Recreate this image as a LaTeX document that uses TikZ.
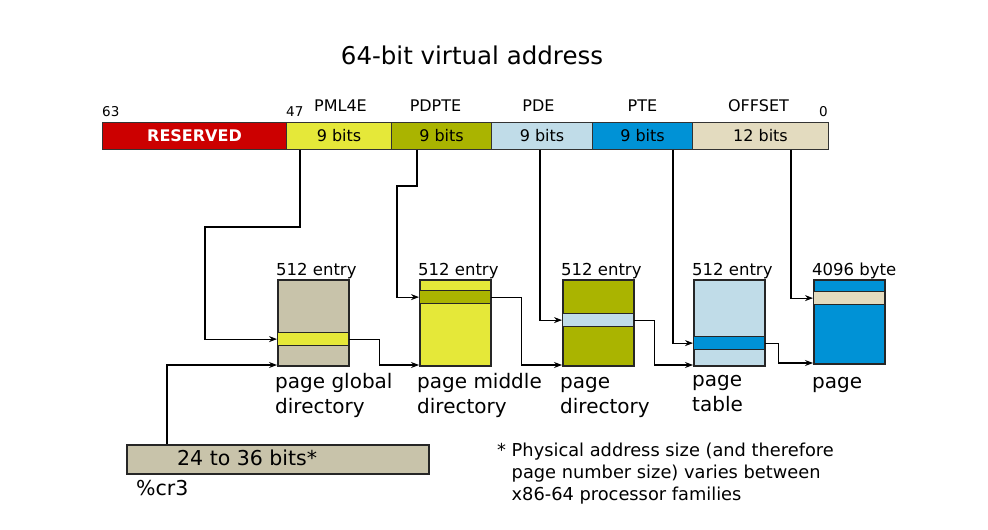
\documentclass[tikz,border=0pt]{standalone}
\usepackage{fontspec}
\setmainfont{DejaVu Sans}
\usetikzlibrary{arrows.meta}
\definecolor{cred}{HTML}{CC0000}
\definecolor{cyel}{HTML}{E5E839}
\definecolor{coli}{HTML}{AAB400}
\definecolor{clbl}{HTML}{C0DCE8}
\definecolor{cblu}{HTML}{0092D6}
\definecolor{cbei}{HTML}{E3DBBF}
\definecolor{ctan}{HTML}{C8C3AA}
\newcommand{\fsz}[2]{\fontsize{#1}{#2}\selectfont}
\begin{document}
\begin{tikzpicture}[x=1pt,y=-1pt,
  seg/.style={draw=black!80, line width=1pt, inner sep=0pt, minimum height=27pt, anchor=west, font=\fsz{16}{19}},
  tbl/.style={draw=black!85, line width=1.5pt, inner sep=0pt, minimum width=71pt, minimum height=86pt, anchor=north west},
  ent/.style={draw=black!85, line width=1.2pt, inner sep=0pt, minimum width=71pt, minimum height=13pt, anchor=north west},
  lbl/.style={inner sep=0pt, anchor=base west, font=\fsz{16.5}{20}},
  captext/.style={inner sep=0pt, anchor=base west, align=left, font=\fsz{20}{25}},
  hdr/.style={inner sep=0pt, anchor=base, font=\fsz{16}{19}},
  num/.style={inner sep=0pt, anchor=base west, font=\fsz{13.5}{16}},
  conn/.style={line width=1.1pt, -{Stealth[length=8pt,width=6pt]}}]
\useasboundingbox (0,0) rectangle (988,530);

\node[inner sep=0pt, anchor=base, font=\fsz{24.5}{29}] (title) at (472,64) {64-bit virtual address};

% bar
\node[seg, fill=cred, text=white, font=\bfseries\fsz{16}{19}, minimum width=184pt] (res) at (102,135.5) {RESERVED};
\node[seg, fill=cyel, minimum width=105pt] (pml) at (286,135.5) {9 bits};
\node[seg, fill=coli, minimum width=100pt] (pdpt) at (391,135.5) {9 bits};
\node[seg, fill=clbl, minimum width=101pt] (pd) at (491,135.5) {9 bits};
\node[seg, fill=cblu, minimum width=100pt] (pt) at (592,135.5) {9 bits};
\node[seg, fill=cbei, minimum width=136pt] (off) at (692,135.5) {12 bits};

\node[hdr] (hpml) at (340.5,111) {PML4E};
\node[hdr] (hpdpt) at (435.5,111) {PDPTE};
\node[hdr] (hpd) at (538.5,111) {PDE};
\node[hdr] (hpt) at (642.5,111) {PTE};
\node[hdr] (hoff) at (758.5,111) {OFFSET};
\node[num] (n63) at (102,116) {63};
\node[num] (n47) at (286,116) {47};
\node[num, anchor=base east] (n0) at (828,116) {0};

% tables
\node[tbl, fill=ctan] (pgd) at (277,279) {};
\node[ent, fill=cyel] (pgde) at (277,332) {};
\node[tbl, fill=cyel] (pmd) at (419,279) {};
\node[ent, fill=coli] (pmde) at (419,290) {};
\node[tbl, fill=coli] (pdt) at (562,279) {};
\node[ent, fill=clbl] (pdte) at (562,313) {};
\node[tbl, fill=clbl] (ptt) at (693,279) {};
\node[ent, fill=cblu] (ptte) at (693,336) {};
\node[tbl, fill=cblu, minimum height=84pt] (pg) at (813,279) {};
\node[ent, fill=cbei] (pge) at (813,291) {};

\node[lbl] (l1) at (276,275) {512 entry};
\node[lbl] (l2) at (418,275) {512 entry};
\node[lbl] (l3) at (561,275) {512 entry};
\node[lbl] (l4) at (692,275) {512 entry};
\node[lbl] (l5) at (812,275) {4096 byte};

\node[captext] (c1) at (275,413) {page global\\directory};
\node[captext] (c2) at (417,413) {page middle\\directory};
\node[captext] (c3) at (560,413) {page\\directory};
\node[captext] (c4) at (692,411) {page\\table};
\node[captext] (c5) at (812,388) {page};

% cr3
\node[draw=black!85, line width=1.5pt, fill=ctan, inner sep=0pt, minimum width=302pt, minimum height=29pt, anchor=north west] (cr3) at (126,444) {};
\node[inner sep=0pt, anchor=base west, font=\fsz{20.5}{25}] (cr3t) at (177,465) {24 to 36 bits*};
\node[inner sep=0pt, anchor=base west, font=\fsz{20.5}{25}] (cr3l) at (136,495) {\%cr3};

\node[inner sep=0pt, anchor=base west, align=left, font=\fsz{17.8}{22}] (note) at (497,500) {* Physical address size (and therefore\\\hspace*{14.5pt}page number size) varies between\\\hspace*{14.5pt}x86-64 processor families};

% connectors
\coordinate (a1) at (300,227);
\coordinate (a2) at (205,227);
\coordinate (b1) at (417,186);
\coordinate (b2) at (397,186);
\coordinate (d1) at (540,149);
\coordinate (e1) at (673,149);
\coordinate (f1) at (791,149);
\coordinate (g1) at (167,444);

\draw[conn] (pml.south -| a1) -- (a1) -- (a2) |- (pgde.west);
\draw[conn] (pdpt.south -| b1) -- (b1) -- (b2) |- (pmde.west);
\draw[conn] (pd.south -| d1) |- (pdte.west);
\draw[conn] (pt.south -| e1) |- (ptte.west);
\draw[conn] (off.south -| f1) |- (pge.west);

\draw[conn] (pgde.east) -- ++(30,0) |- ([yshift=1.5pt]pmd.south west);
\draw[conn] (pmde.east) -- ++(30,0) |- ([yshift=1.5pt]pdt.south west);
\draw[conn] (pdte.east) -- ++(20,0) |- ([yshift=1.5pt]ptt.south west);
\draw[conn] (ptte.east) -- ++(13,0) |- ([yshift=1.5pt]pg.south west);
\draw[conn] (cr3.north -| g1) |- ([yshift=1.5pt]pgd.south west);
\end{tikzpicture}
\end{document}
